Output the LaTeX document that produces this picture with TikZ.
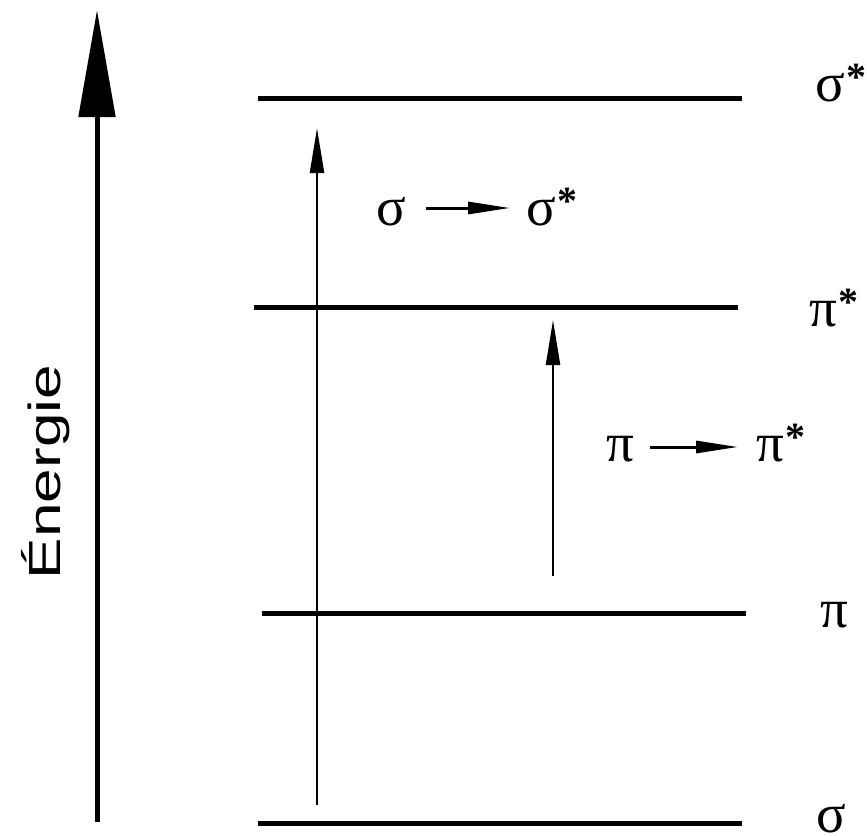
\documentclass[tikz,border=0pt]{standalone}
\usepackage{fontspec}
\setmainfont{Liberation Sans}
\newfontfamily\grk{Liberation Serif}
\usetikzlibrary{arrows.meta}

\newcommand{\etoile}{\hspace{2pt}\raisebox{11pt}{\fontsize{40}{40}\selectfont\bfseries *}}

\begin{document}
\begin{tikzpicture}[x=1pt, y=-1pt,
  niveau/.style={line width=5pt},
  trans/.style={line width=2.4pt, -{Triangle[length=45pt, width=14pt]}},
  fleche/.style={line width=3pt, -{Triangle[length=42pt, width=12pt]}},
  lettre/.style={inner sep=0pt, font=\grk\fontsize{55}{55}\selectfont}]
  \useasboundingbox (0,0) rectangle (867,835);
  % axe des energies
  \coordinate (e0) at (97,822);
  \coordinate (e1) at (97,10);
  \draw[line width=5pt, -{Triangle[length=107pt, width=36pt]}] (e0) -- (e1);
  \node[rotate=90, inner sep=0pt] (energie) at (46,472)
    {\scalebox{1.38}[1]{\fontsize{45}{45}\selectfont Énergie}};
  % niveaux
  \coordinate (ss-g) at (258,98);  \coordinate (ss-d) at (742,98);
  \coordinate (ps-g) at (254,307); \coordinate (ps-d) at (738,307);
  \coordinate (p-g) at (262,613);  \coordinate (p-d) at (746,613);
  \coordinate (s-g) at (258,823);  \coordinate (s-d) at (742,823);
  \draw[niveau] (ss-g) -- (ss-d);
  \draw[niveau] (ps-g) -- (ps-d);
  \draw[niveau] (p-g) -- (p-d);
  \draw[niveau] (s-g) -- (s-d);
  % noms des niveaux
  \node[lettre, anchor=base west] (nss) at (815,101) {σ\etoile};
  \node[lettre, anchor=base west] (nps) at (809,326) {π\etoile};
  \node[lettre, anchor=base west] (np) at (820,627) {π};
  \node[lettre, anchor=base west, text depth=0pt] (ns) at (816,832) {σ};
  % transitions
  \coordinate (t1) at (317,805);
  \coordinate (t1e) at (317,128);
  \draw[trans] (t1) -- (t1e);
  \coordinate (t2) at (553,576);
  \coordinate (t2e) at (553,320);
  \draw[trans] (t2) -- (t2e);
  % etiquettes des transitions
  \node[lettre, anchor=base west] (a1) at (376,225) {σ};
  \node[lettre, anchor=base west] (b1) at (526,225) {σ\etoile};
  \draw[fleche, shorten <=20pt, shorten >=16pt] (a1.east |- 0,208) -- (b1.west |- 0,208);
  \node[lettre, anchor=base west] (a2) at (606,461) {π};
  \node[lettre, anchor=base west] (b2) at (756,461) {π\etoile};
  \draw[fleche, shorten <=16pt, shorten >=18pt] (a2.east |- 0,447) -- (b2.west |- 0,447);
\end{tikzpicture}
\end{document}
